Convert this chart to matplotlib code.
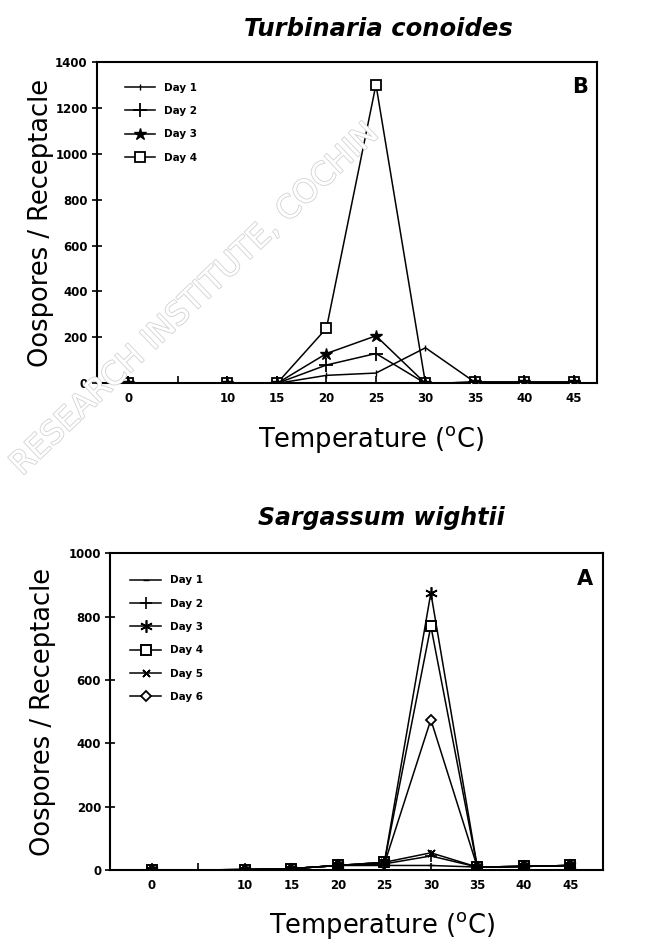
import matplotlib.pyplot as plt
import matplotlib.patheffects as pe

# temperatures (deg C)
temps = [0, 10, 15, 20, 25, 30, 35, 40, 45]

# Turbinaria conoides (panel B)
turb_day1 = [0, 0, 0, 35, 45, 155, 5, 5, 5]
turb_day2 = [0, 0, 0, 80, 130, 0, 5, 5, 5]
turb_day3 = [0, 0, 0, 130, 207, 0, 5, 5, 5]
turb_day4 = [0, 0, 0, 240, 1300, 0, 5, 5, 5]

# Sargassum wightii (panel A)
sarg_day1 = [0, 2, 5, 15, 15, 15, 10, 12, 15]
sarg_day2 = [0, 2, 5, 15, 20, 45, 10, 12, 15]
sarg_day3 = [0, 2, 5, 15, 25, 875, 10, 12, 15]
sarg_day4 = [0, 2, 5, 15, 25, 770, 10, 12, 15]
sarg_day5 = [0, 2, 5, 15, 25, 55, 10, 12, 15]
sarg_day6 = [0, 2, 5, 15, 20, 475, 10, 12, 15]

xticks = [0, 5, 10, 15, 20, 25, 30, 35, 40, 45]
xtick_labels = ['0', '', '10', '15', '20', '25', '30', '35', '40', '45']

fig = plt.figure(figsize=(6.72, 9.49), dpi=100)

# faint scanner watermark (hollow grey letters)
fig.text(0.29, 0.684, 'RESEARCH INSTITUTE, COCHIN', rotation=43.6,
         rotation_mode='anchor', ha='center', va='center',
         fontsize=23, color='white', zorder=0,
         path_effects=[pe.withStroke(linewidth=1.2, foreground='#d2d2d2')])


def style_axes(ax, ymax, ystep, xlim, xlab_x, ylab_x):
    ax.set_xlim(*xlim)
    ax.set_ylim(0, ymax)
    ax.set_xticks(xticks)
    ax.set_xticklabels(xtick_labels)
    ax.set_yticks(range(0, ymax + 1, ystep))
    for s in ax.spines.values():
        s.set_linewidth(1.5)
    ax.tick_params(axis='x', direction='in', length=5, width=1.2, pad=6)
    ax.tick_params(axis='y', direction='inout', length=7, width=1.2, pad=3)
    for lab in ax.get_xticklabels() + ax.get_yticklabels():
        lab.set_fontsize(8.5)
        lab.set_fontweight('bold')
    ax.set_xlabel('Temperature ($^{\\mathrm{o}}$C)', fontsize=18.5)
    ax.set_ylabel('Oospores / Receptacle', fontsize=18.5)
    ax.xaxis.set_label_coords(xlab_x, -0.125)
    ax.yaxis.set_label_coords(ylab_x, 0.5)
    ax.set_facecolor('none')


kw = dict(color='black', linewidth=1.1)
leg_kw = dict(frameon=False, prop={'size': 7.5, 'weight': 'bold'}, loc='upper left',
              handlelength=2.9, handletextpad=0.9, labelspacing=1.28,
              borderpad=0, borderaxespad=0)

# top panel
ax1 = fig.add_axes([0.144, 0.596, 0.744, 0.339])
ax1.plot(temps, turb_day1, marker='|', markersize=5, label='Day 1', zorder=4, **kw)
ax1.plot(temps, turb_day2, marker='+', markersize=10, markeredgewidth=1.3, label='Day 2', zorder=4, **kw)
ax1.plot(temps, turb_day3, marker='*', markersize=9, label='Day 3', zorder=5, **kw)
ax1.plot(temps, turb_day4, marker='s', markersize=7, markerfacecolor='white',
         markeredgewidth=1.3, label='Day 4', zorder=3, **kw)
style_axes(ax1, 1400, 200, (-3.2, 47.3), 0.548, -0.085)
ax1.text(0.966, 0.92, 'B', transform=ax1.transAxes, fontsize=15, fontweight='bold',
         ha='center', va='center')
ax1.legend(bbox_to_anchor=(0.056, 0.935), **leg_kw)

fig.text(378 / 672, 1 - 29 / 949, 'Turbinaria conoides', fontsize=17.5, fontweight='bold',
         fontstyle='italic', ha='center', va='center')

# bottom panel
ax2 = fig.add_axes([0.164, 0.083, 0.733, 0.334])
ax2.plot(temps, sarg_day1, marker='_', markersize=5, label='Day 1', zorder=4, **kw)
ax2.plot(temps, sarg_day2, marker='+', markersize=9, markeredgewidth=1.2, label='Day 2', zorder=4, **kw)
ax2.plot(temps, sarg_day3, marker=(6, 2, 0), markersize=9, markeredgewidth=1.2, label='Day 3', zorder=5, **kw)
ax2.plot(temps, sarg_day4, marker='s', markersize=7, markerfacecolor='white',
         markeredgewidth=1.4, label='Day 4', zorder=3, **kw)
ax2.plot(temps, sarg_day5, marker=(4, 2, 45), markersize=7, markeredgewidth=1.2, label='Day 5', zorder=5, **kw)
ax2.plot(temps, sarg_day6, marker='D', markersize=5, markerfacecolor='white',
         markeredgewidth=1.3, label='Day 6', zorder=3, **kw)
style_axes(ax2, 1000, 200, (-4.5, 48.5), 0.552, -0.11)
ax2.text(0.963, 0.92, 'A', transform=ax2.transAxes, fontsize=15, fontweight='bold',
         ha='center', va='center')
ax2.legend(bbox_to_anchor=(0.041, 0.93), **leg_kw)

fig.text(381 / 672, 1 - 518 / 949, 'Sargassum wightii', fontsize=17, fontweight='bold',
         fontstyle='italic', ha='center', va='center')

plt.savefig('out.png', dpi=100)
plt.close()
